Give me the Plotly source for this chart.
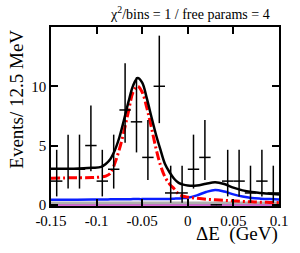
import plotly.graph_objects as go

# ---- data ----
bin_centers = [-0.14375, -0.13125, -0.11875, -0.10625, -0.09375, -0.08125, -0.06875,
               -0.05625, -0.04375, -0.03125, -0.01875, -0.00625, 0.00625, 0.01875,
               0.03125, 0.04375, 0.05625, 0.06875, 0.08125, 0.09375]
counts = [2, 3, 3, 5, 2, 3, 8, 7, 4, 10, 1, 1, 3, 4, 0, 2, 2, 1, 2, 1]
err_hi = [2.64, 2.92, 2.92, 3.38, 2.64, 2.92, 3.95, 3.77, 3.16, 4.27,
          2.30, 2.30, 2.92, 3.16, 0.0, 2.64, 2.64, 2.30, 2.64, 2.30]
err_lo = [1.29, 1.63, 1.63, 2.16, 1.29, 1.63, 2.77, 2.58, 1.91, 3.11,
          0.83, 0.83, 1.63, 1.91, 0.0, 1.29, 1.29, 0.83, 1.29, 0.83]
half_bin = 0.00625

curve_x = [-0.15, -0.125, -0.105, -0.095, -0.09, -0.085, -0.08, -0.075, -0.07, -0.065,
           -0.06, -0.055, -0.05, -0.045, -0.04, -0.035, -0.03, -0.025, -0.02, -0.015,
           -0.01, -0.005, 0.0, 0.01, 0.02, 0.03, 0.04, 0.05, 0.06, 0.07, 0.08, 0.09, 0.1]
total_fit = [3.05, 3.05, 3.12, 3.2, 3.45, 3.85, 4.6, 5.7, 7.15, 8.7,
             10.05, 10.7, 10.3, 9.0, 7.45, 5.95, 4.65, 3.45, 2.75, 2.2,
             1.85, 1.7, 1.63, 1.63, 1.78, 1.9, 1.75, 1.45, 1.22, 1.08, 1.0, 0.93, 0.88]
red_comp = [2.25, 2.28, 2.3, 2.35, 2.42, 2.65, 3.5, 4.7, 6.2, 7.9,
            9.5, 10.0, 9.5, 8.2, 6.55, 4.8, 3.35, 2.35, 1.75, 1.35,
            0.9, 0.72, 0.65, 0.55, 0.47, 0.42, 0.38, 0.33, 0.28, 0.25, 0.22, 0.2, 0.18]
blue_comp = [0.42, 0.43, 0.44, 0.45, 0.45, 0.46, 0.46, 0.47, 0.47, 0.47,
             0.48, 0.48, 0.48, 0.49, 0.49, 0.49, 0.5, 0.5, 0.5, 0.52,
             0.54, 0.57, 0.6, 0.8, 1.08, 1.25, 1.12, 0.88, 0.7, 0.58, 0.52, 0.48, 0.45]
gray_comp = [0.15] * len(curve_x)
magenta_comp = [0.0] * len(curve_x)

x_ticks = [-0.15, -0.1, -0.05, 0, 0.05, 0.1]
x_tick_labels = ["-0.15", "-0.1", "-0.05", "0", "0.05", "0.1"]
y_ticks = [0, 5, 10]
y_tick_labels = ["0", "5", "10"]

SERIF = "Liberation Serif"

fig = go.Figure()
fig.add_trace(go.Scatter(x=curve_x, y=magenta_comp, mode="lines",
                         line=dict(color="#cc33cc", width=2), hoverinfo="skip"))
fig.add_trace(go.Scatter(x=curve_x, y=gray_comp, mode="lines",
                         line=dict(color="#b0b0b0", width=3, shape="spline"), hoverinfo="skip"))
fig.add_trace(go.Scatter(x=curve_x, y=blue_comp, mode="lines",
                         line=dict(color="#0a1eff", width=2.5, shape="spline"), hoverinfo="skip"))
fig.add_trace(go.Scatter(x=curve_x, y=red_comp, mode="lines",
                         line=dict(color="#ff0000", width=3, shape="spline",
                                   dash="9px,3px,2px,3px"), hoverinfo="skip"))
fig.add_trace(go.Scatter(x=curve_x, y=total_fit, mode="lines",
                         line=dict(color="black", width=2.5, shape="spline"), hoverinfo="skip"))
fig.add_trace(go.Scatter(
    x=bin_centers, y=counts, mode="markers",
    marker=dict(size=1, color="black"),
    error_y=dict(type="data", symmetric=False, array=err_hi, arrayminus=err_lo,
                 color="black", thickness=1.5, width=0),
    error_x=dict(type="constant", value=half_bin, color="black", thickness=1.5, width=0),
    hoverinfo="skip"))

fig.update_layout(
    width=300, height=253,
    margin=dict(l=51, r=16, t=27, b=47),
    paper_bgcolor="white", plot_bgcolor="white",
    showlegend=False,
    font=dict(family=SERIF, color="black", size=15),
    xaxis=dict(range=[-0.15, 0.1], tickvals=x_ticks, ticktext=x_tick_labels,
               ticks="inside", ticklen=7, tickwidth=1.5, tickcolor="black",
               showline=True, linecolor="black", linewidth=1.5, mirror="ticks",
               showgrid=False, zeroline=False,
               tickfont=dict(family=SERIF, size=15, color="black")),
    yaxis=dict(range=[-0.1, 15], tickvals=y_ticks, ticktext=y_tick_labels,
               ticks="inside", ticklen=7, tickwidth=1.5, tickcolor="black",
               showline=True, linecolor="black", linewidth=1.5, mirror="ticks",
               showgrid=False, zeroline=False,
               tickfont=dict(family=SERIF, size=15, color="black")),
    annotations=[
        dict(text="χ<sup>2</sup>/bins = 1 / free params = 4", xref="paper", yref="paper",
             x=0.6116, y=1.078, xanchor="center", yanchor="middle", showarrow=False,
             font=dict(family=SERIF, size=14, color="black")),
        dict(text="Events/ 12.5 MeV", xref="paper", yref="paper", textangle=-90,
             x=-0.155, y=0.997, xanchor="center", yanchor="top", showarrow=False,
             font=dict(family=SERIF, size=19, color="black")),
        dict(text="ΔE\u00a0\u00a0(GeV)", xref="paper", yref="paper",
             x=1.003, y=-0.155, xanchor="right", yanchor="middle", showarrow=False,
             font=dict(family=SERIF, size=19, color="black")),
    ],
)

fig.write_html("out.html", config={"displayModeBar": False},
               post_script="document.body.style.margin='0';document.body.style.padding='0';")
